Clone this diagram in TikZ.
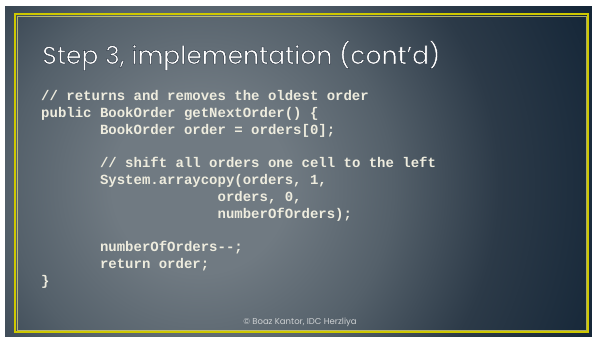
\documentclass[tikz,border=0pt]{standalone}
\usepackage{fontspec}
\setmonofont{Liberation Mono}
\newfontfamily\titlefont{Poppins}

\definecolor{bgA}{RGB}{112,122,130}
\definecolor{bgB}{RGB}{84,96,106}
\definecolor{bgC}{RGB}{44,58,72}
\definecolor{bgD}{RGB}{18,36,54}
\definecolor{framecol}{RGB}{206,200,0}
\definecolor{framelite}{RGB}{232,226,120}
\definecolor{codecol}{RGB}{238,236,222}
\definecolor{footcol}{RGB}{205,208,210}

% radial background of the slide
\pgfdeclareradialshading{slidebg}{\pgfpoint{0bp}{0bp}}{%
  color(0bp)=(bgA); color(5bp)=(bgA); color(11bp)=(bgB);
  color(17bp)=(bgC); color(25bp)=(bgD); color(50bp)=(bgD)}

% white title letters with a thin dark edge (fill + stroke render mode)
\newcommand\outlinedtext[1]{%
  \special{pdf:literal 2 Tr 0.45 w 0.16 0.2 0.25 RG}#1\special{pdf:literal 0 Tr}}

\tikzset{
  codeline/.style={anchor=base west, inner sep=0pt, text=codecol,
    font=\ttfamily\bfseries\fontsize{14}{16.8}\selectfont},
  titletext/.style={anchor=base west, inner sep=0pt, text=white,
    font=\titlefont\fontsize{25}{30}\selectfont},
}

\begin{document}
\begin{tikzpicture}[x=1pt,y=-1pt]
\useasboundingbox (0,0) rectangle (592,337);
\fill[white] (0,0) rectangle (592,337);

% slide background
\begin{scope}
  \clip (5,7) rectangle (592,337);
  \shade[shading=slidebg] (200,185) circle (440);
\end{scope}

% double frame
\draw[framecol, line width=2pt] (15,14.5) rectangle (588,332);
\draw[framelite, line width=0.6pt, opacity=0.7] (16.9,16.4) rectangle (586.1,330.1);

% title
\node[titletext] (title) at (42,64) {\outlinedtext{Step 3, implementation (cont’d)}};

% code listing
\def\lh{16.8}
\foreach \n/\ind/\txt in {
  0/0/{// returns and removes the oldest order},
  1/0/{public BookOrder getNextOrder() \{},
  2/7/{BookOrder order = orders[0];},
  4/7/{// shift all orders one cell to the left},
  5/7/{System.arraycopy(orders, 1,},
  6/21/{orders, 0,},
  7/21/{numberOfOrders);},
  9/7/{numberOfOrders--;},
  10/7/{return order;},
  11/0/{\}}} {
  \node[codeline] (code\n) at (41+8.4*\ind, 100.5+\lh*\n) {\txt};
}

% footer
\node[inner sep=0pt, text=footcol, font=\titlefont\fontsize{8.5}{10}\selectfont]
  (footer) at (300,322) {© Boaz Kantor, IDC Herzliya};
\end{tikzpicture}
\end{document}
